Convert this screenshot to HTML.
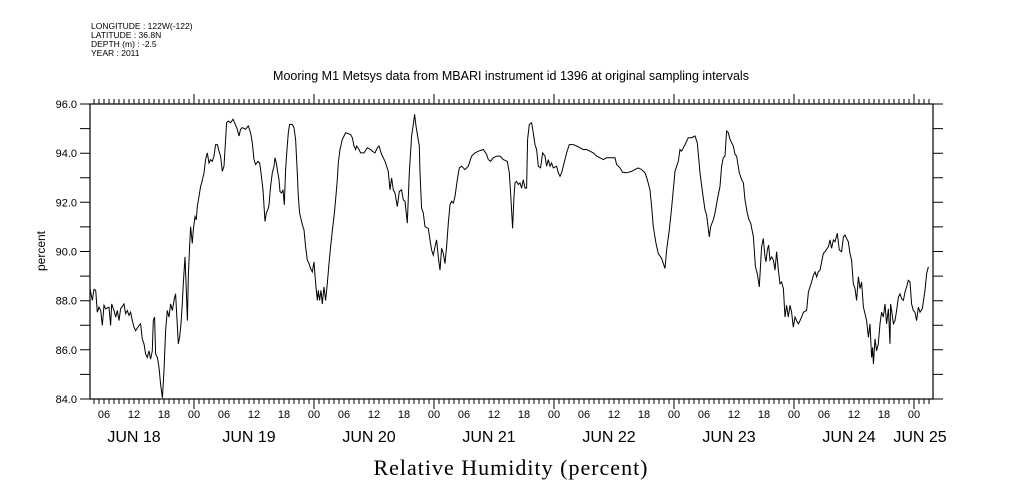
<!DOCTYPE html>
<html><head><meta charset="utf-8"><style>
html,body{margin:0;padding:0;background:#fff;}
svg{display:block;font-family:"Liberation Sans",sans-serif;}
</style></head><body>
<svg id="chart" width="1009" height="504" viewBox="0 0 1009 504" xmlns="http://www.w3.org/2000/svg">
<rect width="1009" height="504" fill="#fff"/>
<g font-size="8.5" fill="#000">
<text x="91" y="29">LONGITUDE : 122W(-122)</text>
<text x="91" y="38">LATITUDE : 36.8N</text>
<text x="91" y="47">DEPTH (m) : -2.5</text>
<text x="91" y="56">YEAR : 2011</text>
</g>
<text x="511" y="80" text-anchor="middle" font-size="12.5">Mooring M1 Metsys data from MBARI instrument id 1396 at original sampling intervals</text>
<text transform="translate(45,251) rotate(-90)" text-anchor="middle" font-size="12">percent</text>
<text x="511" y="475" text-anchor="middle" font-family="'Liberation Serif',serif" font-size="22" letter-spacing="1">Relative Humidity (percent)</text>
<g id="axes"></g>
<g id="series"></g>
</svg>
<script>
const yTicks=[84,86,88,90,92,94,96];
const hourTickLabels=["00","06","12","18"];
const dayLabels=["JUN 18","JUN 19","JUN 20","JUN 21","JUN 22","JUN 23","JUN 24","JUN 25"];
const dayLabelHours=[12,35,59,83,107,131,155,169.2];
// hours since Jun 18 00:00
const hours=[3.2,3.67,4.0,4.33,4.67,5.0,5.33,5.67,6.0,6.33,7.0,7.33,7.53,8.0,8.33,8.67,9.0,9.33,10.0,10.33,10.67,11.0,11.33,11.67,12.0,12.33,13.0,13.33,13.67,14.0,14.33,14.67,15.0,15.33,15.67,15.87,16.13,16.33,16.67,17.0,17.33,17.67,18.0,18.33,18.67,19.0,19.33,19.67,20.0,20.33,20.67,20.87,21.13,21.4,21.67,21.87,22.2,22.47,22.67,22.87,23.13,23.33,23.67,23.87,24.2,24.47,24.67,25.0,25.33,25.53,26.0,26.33,26.67,27.0,27.33,27.67,28.0,28.33,28.67,29.0,29.33,29.67,30.0,30.33,30.53,30.87,31.33,31.8,32.13,32.67,33.0,33.33,33.67,34.33,34.87,35.33,35.67,36.0,36.33,36.8,37.13,37.33,37.8,38.2,38.47,38.87,39.0,39.33,39.67,40.0,40.2,40.47,40.67,41.0,41.2,41.53,41.8,42.07,42.33,42.6,42.87,43.13,43.67,44.0,44.33,44.67,44.87,45.13,45.67,46.0,46.33,46.67,47.0,47.33,47.67,48.0,48.2,48.47,48.67,48.87,49.13,49.4,49.67,50.0,50.33,50.67,51.0,51.33,51.67,52.0,52.33,52.67,52.87,53.2,53.67,54.0,54.33,55.33,55.67,56.0,56.33,56.53,57.0,57.33,58.0,58.67,59.33,59.67,60.2,60.67,61.0,61.53,62.2,62.87,63.2,63.53,63.87,64.2,64.67,65.07,65.53,65.87,66.2,66.67,67.07,67.53,67.87,68.13,68.4,68.73,69.07,69.2,69.53,69.87,70.2,70.87,71.2,71.53,71.87,72.2,72.53,72.87,73.2,73.53,73.87,74.2,74.53,74.87,75.2,75.53,75.87,76.2,76.67,77.07,77.53,78.2,78.87,79.53,80.2,80.87,81.87,82.53,82.87,83.33,83.87,84.53,85.2,85.87,86.67,87.07,87.33,87.73,88.0,88.2,88.53,88.87,89.2,89.53,89.87,90.2,90.53,90.73,91.07,91.53,91.87,92.2,92.53,92.87,93.33,93.73,94.2,94.53,94.87,95.2,95.53,95.87,96.53,96.87,97.2,97.53,97.87,98.53,99.07,99.87,100.53,101.2,101.87,102.53,103.2,103.87,104.53,105.2,105.87,106.53,107.2,108.2,108.53,109.2,109.73,110.53,111.53,112.2,112.87,113.53,114.2,114.67,115.2,115.53,115.87,116.4,116.87,117.53,118.2,118.53,119.07,119.53,120.2,120.87,121.2,121.53,122.2,122.87,123.53,124.2,124.67,125.2,125.73,126.2,126.53,127.07,127.33,127.87,128.2,128.67,129.2,129.53,129.87,130.2,130.53,130.87,131.2,131.87,132.2,132.53,133.07,133.53,133.87,134.2,134.67,135.0,135.33,135.87,136.27,136.67,137.07,137.53,137.87,138.2,138.4,138.67,138.93,139.2,139.53,139.87,140.2,140.53,140.87,141.2,141.53,141.87,142.2,142.53,142.87,143.2,143.53,143.87,144.2,144.53,144.87,145.2,145.53,145.87,146.53,146.87,147.2,147.53,147.87,148.2,148.53,148.87,149.2,149.87,150.2,150.87,151.2,151.53,151.87,152.2,152.67,153.07,153.53,153.87,154.2,154.53,154.87,155.2,155.53,155.87,156.2,156.53,156.87,157.2,157.53,157.87,158.2,158.53,158.87,159.2,159.53,159.73,159.87,160.2,160.53,160.87,161.2,161.53,161.87,162.2,162.53,162.87,163.2,163.33,163.53,163.87,164.2,164.53,164.87,165.2,165.53,165.87,166.2,166.53,166.87,167.2,167.53,167.87,168.2,168.53,168.87,169.2,169.67,170.2,170.53,170.87];
const humidity=[88.49,88.01,88.46,88.42,87.53,87.74,87.60,86.99,87.81,87.67,87.74,86.99,87.87,87.60,87.33,87.60,87.19,87.67,87.87,87.47,87.60,87.40,87.53,87.19,86.92,86.78,86.99,87.06,86.44,86.24,85.83,85.69,85.96,85.62,85.96,87.19,87.33,85.83,85.69,85.28,84.60,84.05,85.15,86.78,87.60,87.33,87.87,87.60,88.01,88.28,86.92,86.24,86.51,87.06,87.87,88.69,89.78,88.42,87.19,88.97,90.19,91.01,90.33,90.88,91.42,91.29,91.83,92.24,92.65,92.79,93.20,93.74,94.01,93.60,93.74,93.67,93.88,94.35,94.35,94.08,93.88,93.26,93.47,94.56,95.24,95.31,95.24,95.38,95.24,94.97,94.70,94.97,95.04,94.97,95.11,94.83,94.42,93.74,93.54,93.67,93.60,93.33,92.51,91.22,91.56,91.76,91.90,92.65,93.20,93.47,93.81,93.60,93.33,92.92,92.44,92.38,92.51,91.90,93.33,94.15,94.83,95.17,95.17,95.04,94.56,93.20,92.24,91.56,91.08,90.88,90.19,89.65,89.51,89.31,89.17,89.58,89.03,88.42,88.01,88.42,88.01,88.42,87.87,88.56,88.01,88.69,89.51,90.19,90.88,91.42,92.10,92.92,93.60,94.15,94.56,94.70,94.83,94.76,94.63,94.29,94.15,94.29,94.15,94.01,94.01,94.22,94.15,94.08,94.01,94.22,94.29,93.95,93.67,93.26,92.51,92.99,92.51,92.38,91.83,92.44,92.51,92.10,92.04,91.15,93.20,94.70,95.17,95.58,95.11,94.70,94.29,93.20,91.76,91.56,91.01,90.94,90.47,90.06,89.85,90.19,90.47,89.78,89.24,90.13,89.92,89.51,90.19,91.15,91.90,92.04,91.97,92.24,92.92,93.40,93.47,93.33,93.47,93.88,94.01,94.08,94.15,93.95,93.74,93.67,93.81,93.88,93.88,93.74,93.67,93.20,92.38,90.94,92.24,92.79,92.85,92.72,92.79,92.58,92.92,92.58,92.58,94.56,95.17,95.24,94.83,94.35,94.15,93.47,93.40,94.01,93.88,93.47,93.74,93.47,93.60,93.40,93.47,93.20,93.06,93.20,93.47,94.01,94.35,94.35,94.29,94.22,94.15,94.15,94.08,94.01,93.88,93.81,93.74,93.81,93.81,93.81,93.54,93.40,93.22,93.20,93.26,93.33,93.40,93.33,93.20,92.92,92.51,91.83,91.01,90.33,89.92,89.72,89.31,90.06,90.88,91.76,93.26,93.67,94.15,94.08,94.35,94.63,94.63,94.70,94.42,93.20,92.38,91.69,91.49,90.60,91.01,91.29,91.56,92.10,92.65,93.47,93.81,93.88,94.90,94.83,94.56,94.29,93.95,93.88,93.20,92.92,92.79,92.10,91.56,91.29,91.15,90.60,89.38,89.10,88.56,90.19,90.53,89.78,89.58,90.06,90.26,89.65,89.78,89.65,89.24,89.99,89.24,88.69,88.76,88.49,87.33,87.81,87.33,87.81,87.53,86.92,87.33,87.19,87.06,87.19,87.33,87.53,87.60,88.35,88.56,88.76,89.03,89.17,88.97,89.17,89.24,89.92,89.99,90.19,90.47,90.13,90.47,90.40,90.74,90.06,89.99,90.60,90.67,90.53,90.40,89.92,89.65,88.69,88.49,88.01,88.97,88.49,88.76,87.74,87.47,87.19,86.51,87.06,85.69,86.10,85.42,86.44,85.96,86.24,87.06,87.53,87.33,87.87,87.06,87.67,86.24,87.87,87.60,87.06,87.19,87.60,88.15,88.28,88.08,88.01,88.35,88.56,88.83,88.76,87.87,87.60,87.53,87.19,87.74,87.53,87.67,88.42,89.10,89.38];

const NS="http://www.w3.org/2000/svg";
const L=90,R=933,T=104,B=399;
const H0=3.2,H1=171.8,Y0=84,Y1=96;
function xs(h){return L+(h-H0)/(H1-H0)*(R-L);}
function ys(v){return B-(v-Y0)/(Y1-Y0)*(B-T);}
function mk(tag,attrs,parent){const e=document.createElementNS(NS,tag);for(const k in attrs)e.setAttribute(k,attrs[k]);parent.appendChild(e);return e;}
const axes=document.getElementById('axes');
const frame=mk('rect',{x:L,y:T,width:R-L,height:B-T,fill:'none',stroke:'#000','stroke-width':1.2},axes);


// hourly ticks top & bottom
let d='';
for(let h=Math.ceil(H0);h<=H1;h++){
  const x=xs(h).toFixed(1);
  const major=(h%24===0);
  const len=major?10:5;
  d+=`M${x},${B}V${B+len}M${x},${T}V${T-len}`;
}
// y ticks
for(let v=Y0;v<=Y1;v++){
  const y=ys(v).toFixed(1);
  d+=`M${L},${y}H${L-10}M${R},${y}H${R+10}`;
}
const tk=mk('path',{d:d,stroke:'#000','stroke-width':1,fill:'none'},axes);


yTicks.forEach(v=>{
  const t=mk('text',{x:77,y:ys(v)+4,'text-anchor':'end','font-size':11},axes);
  t.textContent=v.toFixed(1);
  
  
});
for(let h=6;h<=H1;h+=6){
  const t=mk('text',{x:xs(h),y:418,'text-anchor':'middle','font-size':11},axes);
  t.textContent=hourTickLabels[(h%24)/6];
  
  
}
dayLabels.forEach((s,i)=>{
  const t=mk('text',{x:xs(dayLabelHours[i]),y:442,'text-anchor':'middle','font-size':16},axes);
  t.textContent=s;
  
  
});
const pts=hours.map((h,i)=>xs(h).toFixed(1)+','+ys(humidity[i]).toFixed(1)).join(' ');
const line=mk('polyline',{points:pts,fill:'none',stroke:'#000','stroke-width':1},document.getElementById('series'));


</script>
</body></html>
